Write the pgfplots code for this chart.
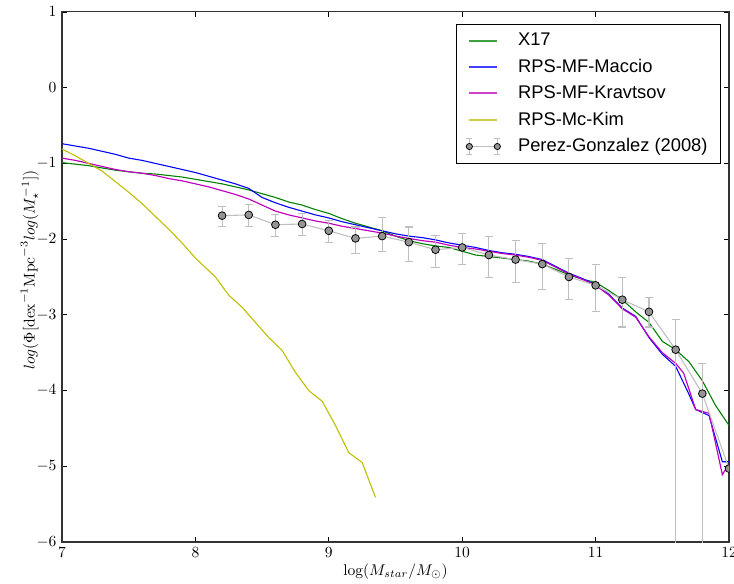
\documentclass[border=0pt]{standalone}
\usepackage{fontspec}
\usepackage{pgfplots}
\pgfplotsset{compat=1.18}
\usetikzlibrary{calc}
\newfontfamily\legfont{Liberation Sans}
\definecolor{mgreen}{rgb}{0,0.5,0}
\definecolor{mblue}{rgb}{0,0,1}
\definecolor{mmag}{rgb}{0.75,0,0.75}
\definecolor{myel}{rgb}{0.75,0.75,0}
\definecolor{ebar}{rgb}{0.75,0.75,0.75}
\definecolor{mfill}{rgb}{0.58,0.58,0.58}
\begin{document}
\begin{tikzpicture}[x=1pt,y=1pt]
\begin{axis}[
  scale only axis,
  width=429.5pt, height=341.3pt,
  xmin=7, xmax=12, ymin=-6, ymax=1,
  xtick={7,8,9,10,11,12}, ytick={-6,-5,-4,-3,-2,-1,0,1},
  tick align=inside, major tick length=3pt,
  tick style={black, line width=0.5pt},
  axis line style={line width=0.7pt, black!80},
  xlabel={$\log(M_{star}/M_{\odot})$},
  ylabel={$log(\Phi[\mathrm{dex}^{-1}\mathrm{Mpc}^{-3}log(M_{\star}^{-1}])$},
  xlabel style={yshift=3pt},
  ylabel style={yshift=-8pt, xshift=4.5pt},
  clip marker paths=true,
  legend cell align=left,
  legend style={at={(0.987,0.978)}, anchor=north east, draw=black, line width=0.5pt,
    font=\legfont\fontsize{11.8}{13}\selectfont, row sep=3.1pt,
    inner xsep=6pt, inner ysep=4pt,
    /tikz/every odd column/.append style={column sep=9pt}},
]
\addplot[mgreen, line width=0.7pt,
  legend image code/.code={\draw[mgreen, line width=1.1pt, opacity=0.75] (0pt,0pt) -- (18pt,0pt);}] coordinates {
(7.0,-0.99) (7.1,-1.01) (7.2,-1.03) (7.3,-1.06) (7.4,-1.09) (7.5,-1.11) (7.6,-1.13) (7.7,-1.14)
(7.8,-1.16) (7.9,-1.18) (8.0,-1.21) (8.1,-1.24) (8.2,-1.27) (8.3,-1.31) (8.4,-1.35) (8.5,-1.40)
(8.6,-1.45) (8.7,-1.51) (8.8,-1.55) (8.9,-1.61) (9.0,-1.66) (9.1,-1.73) (9.2,-1.79) (9.3,-1.84)
(9.4,-1.89) (9.5,-1.96) (9.6,-2.02) (9.7,-2.06) (9.8,-2.09) (9.9,-2.11) (10.0,-2.16) (10.1,-2.21)
(10.2,-2.23) (10.3,-2.25) (10.4,-2.27) (10.5,-2.29) (10.6,-2.33) (10.7,-2.40) (10.8,-2.47)
(10.9,-2.53) (11.0,-2.57) (11.1,-2.68) (11.2,-2.80) (11.3,-2.96) (11.4,-3.10) (11.5,-3.35)
(11.6,-3.46) (11.7,-3.62) (11.8,-3.87) (11.9,-4.20) (12.0,-4.46)};
\addlegendentry{X17}
\addplot[mblue, line width=0.7pt,
  legend image code/.code={\draw[mblue, line width=1.1pt, opacity=0.75] (0pt,0pt) -- (18pt,0pt);}] coordinates {
(7.0,-0.74) (7.1,-0.77) (7.2,-0.80) (7.3,-0.84) (7.4,-0.88) (7.5,-0.93) (7.6,-0.96) (7.7,-1.00)
(7.8,-1.04) (7.9,-1.08) (8.0,-1.12) (8.1,-1.17) (8.2,-1.22) (8.3,-1.27) (8.4,-1.33) (8.5,-1.45)
(8.6,-1.52) (8.7,-1.58) (8.8,-1.63) (8.9,-1.68) (9.0,-1.72) (9.1,-1.77) (9.2,-1.81) (9.3,-1.85)
(9.4,-1.89) (9.5,-1.93) (9.6,-1.96) (9.7,-1.98) (9.8,-2.01) (9.9,-2.05) (10.0,-2.08) (10.1,-2.11)
(10.2,-2.15) (10.3,-2.18) (10.4,-2.20) (10.5,-2.23) (10.6,-2.27) (10.7,-2.36) (10.8,-2.45)
(10.9,-2.52) (11.0,-2.60) (11.1,-2.73) (11.2,-2.91) (11.3,-3.02) (11.4,-3.30) (11.5,-3.52)
(11.6,-3.68) (11.7,-4.05) (11.75,-4.25) (11.85,-4.33) (11.95,-4.94) (12.0,-4.94)};
\addlegendentry{RPS-MF-Maccio}
\addplot[mmag, line width=0.75pt,
  legend image code/.code={\draw[draw=mmag, line width=1.1pt, opacity=0.75] (0pt,0.3pt) -- (18pt,0.3pt);}] coordinates {
(7.0,-0.93) (7.1,-0.96) (7.2,-1.00) (7.3,-1.04) (7.4,-1.08) (7.5,-1.11) (7.6,-1.13) (7.7,-1.16)
(7.8,-1.20) (7.9,-1.23) (8.0,-1.27) (8.1,-1.31) (8.2,-1.36) (8.3,-1.41) (8.4,-1.47) (8.5,-1.55)
(8.6,-1.63) (8.7,-1.68) (8.8,-1.72) (8.9,-1.76) (9.0,-1.79) (9.1,-1.83) (9.2,-1.86) (9.3,-1.89)
(9.4,-1.92) (9.5,-1.96) (9.6,-1.99) (9.7,-2.02) (9.8,-2.04) (9.9,-2.08) (10.0,-2.11) (10.1,-2.13)
(10.2,-2.16) (10.3,-2.19) (10.4,-2.21) (10.5,-2.24) (10.6,-2.28) (10.7,-2.37) (10.8,-2.46)
(10.9,-2.53) (11.0,-2.61) (11.1,-2.74) (11.2,-2.92) (11.3,-3.03) (11.4,-3.29) (11.5,-3.50)
(11.6,-3.64) (11.66,-3.77) (11.75,-4.25) (11.85,-4.30) (11.95,-5.11) (12.0,-4.97)};
\addlegendentry{RPS-MF-Kravtsov}
\addplot[myel, line width=0.7pt,
  legend image code/.code={\draw[myel, line width=1.1pt, opacity=0.75] (0pt,0pt) -- (18pt,0pt);}] coordinates {
(7.0,-0.81) (7.1,-0.90) (7.2,-1.00) (7.3,-1.10) (7.4,-1.24) (7.5,-1.38) (7.6,-1.53) (7.7,-1.70)
(7.8,-1.87) (7.9,-2.05) (8.0,-2.25) (8.15,-2.50) (8.25,-2.74) (8.35,-2.90) (8.45,-3.10)
(8.55,-3.30) (8.65,-3.47) (8.75,-3.76) (8.85,-4.00) (8.95,-4.14) (9.05,-4.46) (9.15,-4.82)
(9.25,-4.95) (9.35,-5.41)};
\addlegendentry{RPS-Mc-Kim}
\addplot[ebar, line width=0.7pt, mark=*, mark size=2.5pt,
  mark options={fill=mfill, draw=black, line width=0.5pt},
  legend image code/.code={
    \draw[ebar, line width=0.7pt] (0pt,0pt) -- (18pt,0pt);
    \draw[ebar, line width=0.7pt] (0pt,-5pt) -- (0pt,5pt) (-2pt,-5pt) -- (2pt,-5pt) (-2pt,5pt) -- (2pt,5pt);
    \draw[ebar, line width=0.7pt] (18pt,-5pt) -- (18pt,5pt) (16pt,-5pt) -- (20pt,-5pt) (16pt,5pt) -- (20pt,5pt);
    \filldraw[fill=mfill, draw=black, line width=0.5pt] (0pt,0pt) circle (2pt) (18pt,0pt) circle (2pt);
  },
  error bars/.cd, y dir=both, y explicit,
  error bar style={ebar, line width=0.7pt},
  error mark options={ebar, line width=0.7pt, mark size=2.6pt, rotate=90},
  ] coordinates {
(8.2,-1.69) += (0,0.12) -= (0,0.14)
(8.4,-1.68) += (0,0.14) -= (0,0.15)
(8.6,-1.81) += (0,0.13) -= (0,0.16)
(8.8,-1.80) += (0,0.14) -= (0,0.15)
(9.0,-1.89) += (0,0.13) -= (0,0.16)
(9.2,-1.99) += (0,0.15) -= (0,0.20)
(9.4,-1.96) += (0,0.24) -= (0,0.20)
(9.6,-2.04) += (0,0.20) -= (0,0.25)
(9.8,-2.14) += (0,0.19) -= (0,0.24)
(10.0,-2.11) += (0,0.19) -= (0,0.23)
(10.2,-2.21) += (0,0.25) -= (0,0.30)
(10.4,-2.27) += (0,0.25) -= (0,0.30)
(10.6,-2.33) += (0,0.27) -= (0,0.33)
(10.8,-2.50) += (0,0.24) -= (0,0.30)
(11.0,-2.61) += (0,0.28) -= (0,0.34)
(11.2,-2.80) += (0,0.29) -= (0,0.36)
(11.4,-2.96) += (0,0.19) -= (0,0.20)
(11.6,-3.46) += (0,0.40) -= (0,3.0)
(11.8,-4.04) += (0,0.40) -= (0,3.0)
(12.0,-5.03) += (0,0) -= (0,0)
};
\addlegendentry{Perez-Gonzalez (2008)}
\end{axis}
\pgfresetboundingbox
\path ($(current axis.south west)+(-39.9pt,-27pt)$) rectangle ($(current axis.north east)+(3.2pt,7.7pt)$);
\end{tikzpicture}
\end{document}
